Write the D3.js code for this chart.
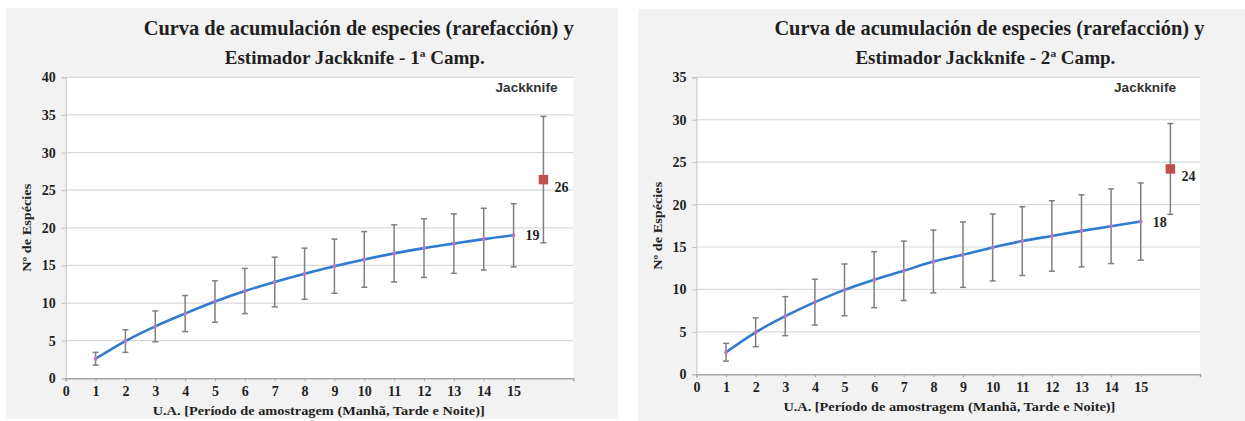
<!DOCTYPE html>
<html>
<head>
<meta charset="utf-8">
<script src="https://cdn.jsdelivr.net/npm/d3@7/dist/d3.min.js"></script>
<style>
  body { margin: 0; background: #ffffff; }
  svg { display: block; }
  .tick text { font-family: 'Liberation Serif', 'Times New Roman', serif; font-weight: bold; font-size: 14px; fill: #1f1f1f; }
</style>
</head>
<body>
<svg id="chart" width="1245" height="421"></svg>
<script>
// Sampling units (U.A.) on the x axis
const samplingUnits = [1, 2, 3, 4, 5, 6, 7, 8, 9, 10, 11, 12, 13, 14, 15];
const xTickLabels = [0, 1, 2, 3, 4, 5, 6, 7, 8, 9, 10, 11, 12, 13, 14, 15];

// 1st campaign: rarefaction curve (mean species) and its standard deviation
const camp1Mean = [2.6, 4.95, 6.9, 8.6, 10.2, 11.6, 12.8, 13.9, 14.9, 15.8, 16.6, 17.3, 17.9, 18.5, 19.0];
const camp1Sd   = [0.85, 1.5, 2.05, 2.4, 2.75, 3.0, 3.3, 3.4, 3.6, 3.7, 3.8, 3.9, 3.95, 4.1, 4.2];
const camp1Jack = 26.4;
const camp1JackSd = 8.4;
const camp1YTicks = [0, 5, 10, 15, 20, 25, 30, 35, 40];

// 2nd campaign
const camp2Mean = [2.6, 4.95, 6.85, 8.5, 9.95, 11.15, 12.2, 13.3, 14.1, 14.95, 15.7, 16.3, 16.9, 17.45, 18.0];
const camp2Sd   = [1.05, 1.7, 2.3, 2.7, 3.05, 3.3, 3.5, 3.7, 3.85, 3.95, 4.05, 4.15, 4.25, 4.4, 4.55];
const camp2Jack = 24.2;
const camp2JackSd = 5.35;
const camp2YTicks = [0, 5, 10, 15, 20, 25, 30, 35];

const jackX = 16;           // position of the Jackknife estimate on the x scale
const xMax = 17;

const titleLine1 = "Curva de acumulación de especies (rarefacción) y";
const yTitle = "Nº de Espécies";
const xTitle = "U.A. [Período de amostragem (Manhã, Tarde e Noite)]";
const jackLabel = "Jackknife";

const svg = d3.select("#chart");
const serif = "'Liberation Serif', 'Times New Roman', serif";
const sans = "'Liberation Sans', Arial, sans-serif";
const fmt = d3.format(".0f");

function drawChart(cfg) {
  const g = svg.append("g");

  // panel background
  g.append("rect")
    .attr("x", cfg.panel[0]).attr("y", cfg.panel[1])
    .attr("width", cfg.panel[2]).attr("height", cfg.panel[3])
    .attr("fill", "#f2f2f2");

  const x = d3.scaleLinear().domain([0, xMax]).range([cfg.plot.left, cfg.plot.right]);
  const y = d3.scaleLinear().domain([0, cfg.yMax]).range([cfg.plot.bottom, cfg.plot.top]);

  // plot area
  g.append("rect")
    .attr("x", x(0)).attr("y", y(cfg.yMax))
    .attr("width", x(xMax) - x(0)).attr("height", y(0) - y(cfg.yMax))
    .attr("fill", "#ffffff");

  // horizontal gridlines
  g.append("g")
    .selectAll("line")
    .data(cfg.yTicks.filter(d => d > 0))
    .join("line")
    .attr("x1", x(0)).attr("x2", x(xMax))
    .attr("y1", d => y(d)).attr("y2", d => y(d))
    .attr("stroke", "#d9d9d9").attr("stroke-width", 1.2);

  // y axis
  const yAxis = g.append("g")
    .attr("transform", `translate(${x(0)},0)`)
    .call(d3.axisLeft(y).tickValues(cfg.yTicks).tickSize(4).tickPadding(6).tickFormat(d3.format("d")));
  yAxis.select(".domain").attr("stroke", "#bfbfbf");
  yAxis.selectAll(".tick line").attr("stroke", "#bfbfbf");

  // x axis
  const xAxis = g.append("g")
    .attr("transform", `translate(0,${y(0)})`)
    .call(d3.axisBottom(x).tickValues(xTickLabels).tickSize(3).tickPadding(5).tickFormat(d3.format("d")));
  xAxis.select(".domain").attr("stroke", "#a6a6a6").attr("stroke-width", 1.5);
  xAxis.selectAll(".tick line").attr("stroke", "#a6a6a6");

  // error bars
  const bars = samplingUnits.map((u, i) => ({ u, m: cfg.mean[i], s: cfg.sd[i] }));
  bars.push({ u: jackX, m: cfg.jack, s: cfg.jackSd });
  const eb = g.append("g").attr("stroke", "#7f7f7f").attr("stroke-width", 1.5);
  eb.selectAll("line.v").data(bars).join("line").attr("class", "v")
    .attr("x1", d => x(d.u)).attr("x2", d => x(d.u))
    .attr("y1", d => y(d.m - d.s)).attr("y2", d => y(d.m + d.s));
  eb.selectAll("line.t").data(bars).join("line").attr("class", "t")
    .attr("x1", d => x(d.u) - 3).attr("x2", d => x(d.u) + 3)
    .attr("y1", d => y(d.m + d.s)).attr("y2", d => y(d.m + d.s));
  eb.selectAll("line.b").data(bars).join("line").attr("class", "b")
    .attr("x1", d => x(d.u) - 3).attr("x2", d => x(d.u) + 3)
    .attr("y1", d => y(d.m - d.s)).attr("y2", d => y(d.m - d.s));

  // rarefaction curve
  const line = d3.line().x((d, i) => x(samplingUnits[i])).y(d => y(d)).curve(d3.curveCatmullRom);
  g.append("path").datum(cfg.mean)
    .attr("d", line)
    .attr("fill", "none").attr("stroke", "#2e7bcf").attr("stroke-width", 2.6);

  g.append("g").selectAll("path").data(cfg.mean).join("path")
    .attr("transform", (d, i) => `translate(${x(samplingUnits[i])},${y(d)})`)
    .attr("d", d3.symbol(d3.symbolDiamond, 14))
    .attr("fill", "#b77ab4");

  // Jackknife estimate
  g.append("path")
    .attr("transform", `translate(${x(jackX)},${y(cfg.jack)})`)
    .attr("d", d3.symbol(d3.symbolSquare, 90))
    .attr("fill", "#c0504d");

  // value labels
  const last = cfg.mean[cfg.mean.length - 1];
  g.append("text")
    .attr("x", x(15) + 12).attr("y", y(last) + 5)
    .attr("font-family", serif).attr("font-weight", "bold").attr("font-size", 14).attr("fill", "#1f1f1f")
    .text(fmt(last));
  g.append("text")
    .attr("x", x(jackX) + 11).attr("y", y(cfg.jack) + 12)
    .attr("font-family", serif).attr("font-weight", "bold").attr("font-size", 14).attr("fill", "#1f1f1f")
    .text(fmt(cfg.jack));

  g.append("text")
    .attr("x", cfg.jackLabelX).attr("y", cfg.plot.top + 15)
    .attr("text-anchor", "middle")
    .attr("textLength", 62).attr("lengthAdjust", "spacingAndGlyphs")
    .attr("font-family", sans).attr("font-weight", "bold").attr("font-size", 13.5).attr("fill", "#333333")
    .text(jackLabel);

  // titles
  g.append("text")
    .attr("x", x(0) + 293).attr("y", 35)
    .attr("text-anchor", "middle")
    .attr("textLength", 430).attr("lengthAdjust", "spacingAndGlyphs")
    .attr("font-family", serif).attr("font-weight", "bold").attr("font-size", 22).attr("fill", "#1f1f1f")
    .text(titleLine1);
  g.append("text")
    .attr("x", x(0) + 289).attr("y", 64)
    .attr("text-anchor", "middle")
    .attr("textLength", 260).attr("lengthAdjust", "spacingAndGlyphs")
    .attr("font-family", serif).attr("font-weight", "bold").attr("font-size", 18).attr("fill", "#1f1f1f")
    .text(cfg.title2);

  // axis titles
  g.append("text")
    .attr("transform", `translate(${x(0) - 39},${(cfg.plot.top + cfg.plot.bottom) / 2}) rotate(-90)`)
    .attr("text-anchor", "middle").attr("dy", "0.35em")
    .attr("textLength", 88).attr("lengthAdjust", "spacingAndGlyphs")
    .attr("font-family", serif).attr("font-weight", "bold").attr("font-size", 12.5).attr("fill", "#1f1f1f")
    .text(yTitle);
  g.append("text")
    .attr("x", x(0) + 253).attr("y", y(0) + 37)
    .attr("text-anchor", "middle")
    .attr("textLength", 332).attr("lengthAdjust", "spacingAndGlyphs")
    .attr("font-family", serif).attr("font-weight", "bold").attr("font-size", 13.5).attr("fill", "#1f1f1f")
    .text(xTitle);
}

drawChart({
  panel: [6, 8, 612, 411],
  plot: { left: 65.7, right: 573.3, top: 77.3, bottom: 378.3 },
  yMax: 40, yTicks: camp1YTicks,
  mean: camp1Mean, sd: camp1Sd, jack: camp1Jack, jackSd: camp1JackSd,
  jackLabelX: 526.5,
  title2: "Estimador  Jackknife - 1ª Camp."
});

drawChart({
  panel: [638, 9, 607, 412],
  plot: { left: 696.4, right: 1200, top: 77.3, bottom: 374.3 },
  yMax: 35, yTicks: camp2YTicks,
  mean: camp2Mean, sd: camp2Sd, jack: camp2Jack, jackSd: camp2JackSd,
  jackLabelX: 1145,
  title2: "Estimador  Jackknife - 2ª Camp."
});
</script>
</body>
</html>
